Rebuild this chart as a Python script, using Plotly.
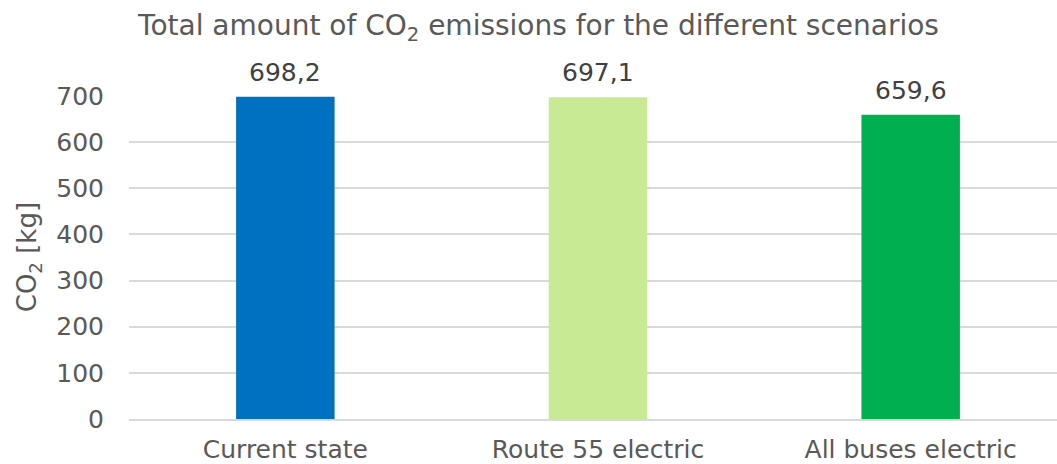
import plotly.graph_objects as go

categories = ["Current state", "Route 55 electric", "All buses electric"]
values = [698.2, 697.1, 659.6]
colors = ["#0070C0", "#C9EA94", "#00B050"]
y_ticks = [0, 100, 200, 300, 400, 500, 600, 700]

FONT = "DejaVu Sans"
GRAY = "#595959"

x_pos = list(range(len(categories)))

fig = go.Figure()
fig.add_trace(go.Bar(
    x=x_pos, y=values, width=0.315,
    marker=dict(color=colors, line=dict(width=0)),
    hoverinfo="skip",
))

for xi, v in zip(x_pos, values):
    fig.add_annotation(
        x=xi, y=v, xref="x", yref="y",
        text=f"{v:.1f}".replace(".", ","),
        showarrow=False, yanchor="bottom", yshift=8,
        font=dict(family=FONT, size=25, color="#404040"),
    )

fig.add_annotation(
    xref="paper", yref="paper", x=-0.108, y=0.5,
    text="CO<sub>2</sub> [kg]", textangle=-90,
    showarrow=False, xanchor="center", yanchor="middle",
    font=dict(family=FONT, size=26, color=GRAY),
)

fig.update_layout(
    width=1057, height=464,
    margin=dict(l=129, r=0, t=96, b=45),
    paper_bgcolor="white", plot_bgcolor="white",
    showlegend=False,
    title=dict(
        text="Total amount of CO<sub>2</sub> emissions for the different scenarios",
        x=(140 + 937) / 2 / 1057, xanchor="center",
        y=1 - 25 / 464, yanchor="middle",
        font=dict(family=FONT, size=28, color=GRAY),
    ),
    xaxis=dict(
        tickmode="array", tickvals=x_pos, ticktext=categories,
        range=[-0.5, 2.468], automargin=False,
        showgrid=False, zeroline=False,
        showline=True, linecolor="#D9D9D9", linewidth=2,
        ticks="", ticklabelstandoff=7,
        tickfont=dict(family=FONT, size=25, color=GRAY),
    ),
    yaxis=dict(
        range=[0, 700], tickvals=y_ticks, automargin=False,
        showgrid=True, gridcolor="#D9D9D9", gridwidth=2,
        zeroline=False, showline=False, ticks="",
        ticklabelstandoff=24,
        tickfont=dict(family=FONT, size=25, color=GRAY),
    ),
)

fig.write_html("out.html")
